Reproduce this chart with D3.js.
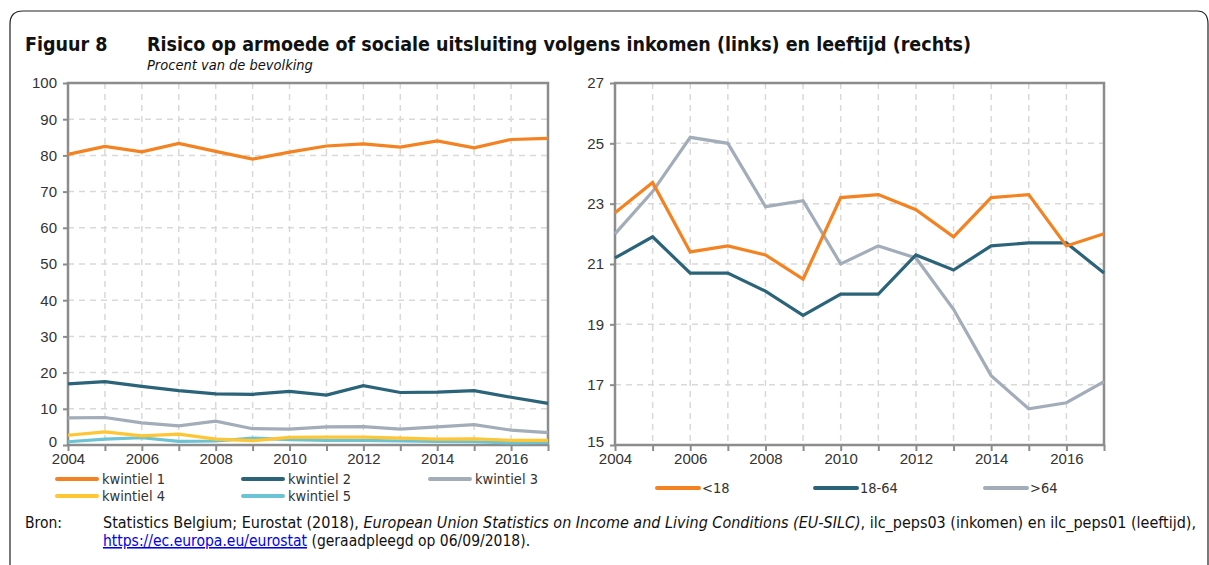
<!DOCTYPE html>
<html>
<head>
<meta charset="utf-8">
<script src="https://cdn.jsdelivr.net/npm/d3@7"></script>
<style>
  body { margin: 0; background: #fff; }
  svg { font-family: "DejaVu Sans Condensed", "DejaVu Sans", sans-serif; }
  .grid line { stroke: #d9d9d9; stroke-width: 1.5; stroke-dasharray: 6,5; }
</style>
</head>
<body>
<svg width="1209" height="565"></svg>
<script>
// years on the x axis
const years = d3.range(2004, 2018);
const xTicks = [2004, 2006, 2008, 2010, 2012, 2014, 2016];

// left panel: by income quintile
const incomeNames = ['kwintiel 1', 'kwintiel 2', 'kwintiel 3', 'kwintiel 4', 'kwintiel 5'];
const kwintiel1 = [80.3, 82.5, 81.0, 83.3, 81.1, 79.0, 80.9, 82.6, 83.2, 82.3, 84.0, 82.1, 84.4, 84.7];
const kwintiel2 = [16.9, 17.5, 16.2, 15.0, 14.1, 14.0, 14.8, 13.8, 16.4, 14.5, 14.6, 15.0, 13.2, 11.5];
const kwintiel3 = [7.5, 7.6, 6.1, 5.3, 6.6, 4.5, 4.4, 5.0, 5.1, 4.4, 5.0, 5.6, 4.1, 3.4];
const kwintiel4 = [2.7, 3.6, 2.5, 3.0, 1.6, 1.2, 2.1, 2.2, 2.2, 1.9, 1.6, 1.7, 1.3, 1.3];
const kwintiel5 = [0.9, 1.6, 2.0, 1.0, 1.1, 1.9, 1.5, 1.3, 1.3, 1.1, 1.0, 0.9, 0.6, 0.7];
const incomeColors = ['#f58220', '#2b6479', '#a2adb9', '#ffc533', '#6cc3d3'];
const leftTicks = d3.range(0, 101, 10);

// right panel: by age
const ageNames = ['<18', '18-64', '>64'];
const under18 = [22.7, 23.7, 21.4, 21.6, 21.3, 20.5, 23.2, 23.3, 22.8, 21.9, 23.2, 23.3, 21.6, 22.0];
const age1864 = [21.2, 21.9, 20.7, 20.7, 20.1, 19.3, 20.0, 20.0, 21.3, 20.8, 21.6, 21.7, 21.7, 20.7];
const over64 = [22.0, 23.4, 25.2, 25.0, 22.9, 23.1, 21.0, 21.6, 21.2, 19.5, 17.3, 16.2, 16.4, 17.1];
const ageColors = ['#f58220', '#2b6479', '#a2adb9'];
const rightTicks = [15, 17, 19, 21, 23, 25, 27];

const svg = d3.select('svg');

// frame round the figure
svg.append('path')
  .attr('d', 'M10,565 L10,24 Q10,11 23,11 L1197,11 Q1208,11 1208,24 L1208,565')
  .attr('fill', 'none').attr('stroke', '#222').attr('stroke-width', 1.2);

// titles
svg.append('text').attr('x', 25).attr('y', 51).attr('font-size', 19.5).attr('font-weight', 'bold')
  .attr('fill', '#111').text('Figuur 8');
svg.append('text').attr('x', 147).attr('y', 51).attr('font-size', 19.5).attr('font-weight', 'bold')
  .attr('fill', '#111').text('Risico op armoede of sociale uitsluiting volgens inkomen (links) en leeftijd (rechts)');
svg.append('text').attr('x', 147).attr('y', 70).attr('font-size', 14.5).attr('font-style', 'italic')
  .attr('fill', '#111').text('Procent van de bevolking');

function panel(opts) {
  const x = d3.scaleLinear().domain([2004, 2017]).range([opts.left, opts.right]);
  const y = d3.scaleLinear().domain(opts.domain).range([445, 83]);
  const g = svg.append('g');

  // vertical dashed grid at every year
  g.append('g').attr('class', 'grid')
    .selectAll('line').data(years.slice(1, -1)).join('line')
    .attr('x1', d => x(d)).attr('x2', d => x(d)).attr('y1', y.range()[1]).attr('y2', y.range()[0]);
  // horizontal dashed grid
  g.append('g').attr('class', 'grid')
    .selectAll('line').data(opts.ticks.slice(1, -1)).join('line')
    .attr('x1', x.range()[0]).attr('x2', x.range()[1]).attr('y1', d => y(d)).attr('y2', d => y(d));

  // box
  g.append('rect').attr('x', opts.left).attr('y', 83)
    .attr('width', opts.right - opts.left).attr('height', 445 - 83)
    .attr('fill', 'none').attr('stroke', '#8c8c8c').attr('stroke-width', 2.5);

  const yAxis = g.append('g').attr('transform', `translate(${opts.left},0)`)
    .call(d3.axisLeft(y).tickValues(opts.ticks).tickSize(5).tickSizeOuter(0).tickPadding(6));
  yAxis.select('.domain').remove();
  yAxis.selectAll('line').attr('stroke', '#8c8c8c').attr('stroke-width', 2);
  yAxis.selectAll('text').attr('font-size', 15).attr('fill', '#333');
  // keep the lowest label clear of the first year label
  yAxis.selectAll('.tick text').filter(d => d === opts.domain[0]).attr('dy', '0.1em');

  const xAxis = g.append('g').attr('transform', 'translate(0,445)')
    .call(d3.axisBottom(x).tickValues(years).tickSize(6).tickSizeOuter(0).tickPadding(2)
      .tickFormat(d => xTicks.includes(d) ? d : ''));
  xAxis.select('.domain').remove();
  xAxis.selectAll('line').attr('stroke', '#8c8c8c').attr('stroke-width', 2);
  xAxis.selectAll('text').attr('font-size', 15).attr('fill', '#333');

  const line = d3.line().x((d, i) => x(years[i])).y(d => y(d));
  g.selectAll('path.series').data(opts.series).join('path').attr('class', 'series')
    .attr('d', line).attr('fill', 'none')
    .attr('stroke', (d, i) => opts.colors[i]).attr('stroke-width', 3.2)
    .attr('stroke-linejoin', 'miter');
}

panel({ left: 68, right: 548, domain: [0, 100], ticks: leftTicks,
  series: [kwintiel5, kwintiel4, kwintiel3, kwintiel2, kwintiel1],
  colors: [incomeColors[4], incomeColors[3], incomeColors[2], incomeColors[1], incomeColors[0]] });
panel({ left: 615, right: 1104, domain: [15, 27], ticks: rightTicks,
  series: [over64, age1864, under18],
  colors: [ageColors[2], ageColors[1], ageColors[0]] });

// legends
const legLeft = [[57, 479], [243, 479], [430, 479], [57, 496], [243, 496]];
incomeNames.forEach((name, i) => {
  const [lx, ly] = legLeft[i];
  svg.append('line').attr('x1', lx).attr('x2', lx + 40).attr('y1', ly).attr('y2', ly)
    .attr('stroke', incomeColors[i]).attr('stroke-width', 4).attr('stroke-linecap', 'round');
  svg.append('text').attr('x', lx + 45).attr('y', ly + 5).attr('font-size', 14.5).attr('fill', '#333').text(name);
});
const legRight = [657, 815, 985];
ageNames.forEach((name, i) => {
  const lx = legRight[i], ly = 488;
  svg.append('line').attr('x1', lx).attr('x2', lx + 42).attr('y1', ly).attr('y2', ly)
    .attr('stroke', ageColors[i]).attr('stroke-width', 4).attr('stroke-linecap', 'round');
  svg.append('text').attr('x', lx + 45).attr('y', ly + 5).attr('font-size', 14.5).attr('fill', '#333').text(name);
});

// source
svg.append('text').attr('x', 25).attr('y', 528).attr('font-size', 15.5).attr('fill', '#111').text('Bron:');
const src = svg.append('text').attr('x', 103).attr('y', 528).attr('font-size', 15.5).attr('fill', '#111')
  .attr('textLength', 1093).attr('lengthAdjust', 'spacingAndGlyphs');
src.append('tspan').text('Statistics Belgium; Eurostat (2018), ');
src.append('tspan').attr('font-style', 'italic').text('European Union Statistics on Income and Living Conditions (EU-SILC)');
src.append('tspan').text(', ilc_peps03 (inkomen) en ilc_peps01 (leeftijd),');
const src2 = svg.append('text').attr('x', 103).attr('y', 546).attr('font-size', 15.5).attr('fill', '#111');
src2.append('tspan').attr('fill', '#0000ee').attr('text-decoration', 'underline').text('https://ec.europa.eu/eurostat');
src2.append('tspan').text(' (geraadpleegd op 06/09/2018).');
</script>
</body>
</html>
